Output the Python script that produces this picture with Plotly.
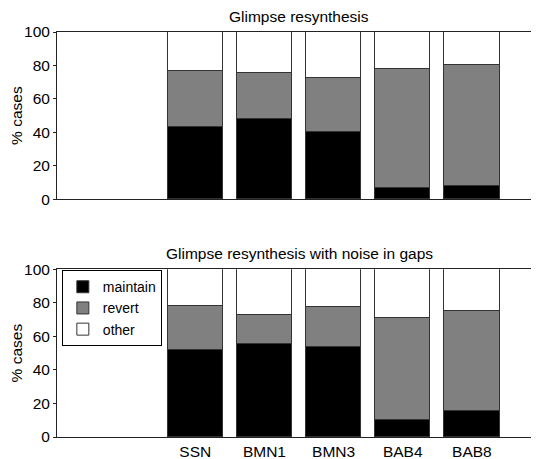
import plotly.graph_objects as go

categories = ["SSN", "BMN1", "BMN3", "BAB4", "BAB8"]
positions = [3, 4, 5, 6, 7]

top_maintain = [43.0, 47.7, 40.1, 6.9, 7.8]
top_revert = [33.6, 27.7, 32.7, 70.9, 72.2]
top_other = [100 - m - r for m, r in zip(top_maintain, top_revert)]

bot_maintain = [51.4, 55.2, 53.6, 9.8, 15.4]
bot_revert = [26.7, 17.4, 23.9, 61.1, 59.3]
bot_other = [100 - m - r for m, r in zip(bot_maintain, bot_revert)]

titles = ["Glimpse resynthesis", "Glimpse resynthesis with noise in gaps"]
series_names = ["maintain", "revert", "other"]
colors = ["#000000", "#808080", "#ffffff"]

FONT = "Liberation Sans, Arial, Helvetica, sans-serif"
FS = 15.5

fig = go.Figure()

panels = [
    ("x", "y", [top_maintain, top_revert, top_other], False),
    ("x2", "y2", [bot_maintain, bot_revert, bot_other], True),
]
for xa, ya, vals, show in panels:
    for name, col, v in zip(series_names, colors, vals):
        fig.add_trace(go.Bar(
            x=positions, y=v, name=name, xaxis=xa, yaxis=ya,
            marker=dict(color=col, line=dict(color="#333333", width=1)),
            width=0.8, showlegend=show, legendgroup=name,
        ))

xrange_ = [1, 8]
common_x = dict(range=xrange_, showline=True, linecolor="#222", linewidth=1,
                mirror=True, ticks="", showgrid=False, zeroline=False,
                tickvals=positions, ticktext=categories, automargin=False,
                tickfont=dict(family=FONT, size=FS, color="#000"))
common_y = dict(range=[0, 100], showline=True, linecolor="#222", linewidth=1,
                mirror=True, ticks="outside", ticklen=3, tickcolor="#222",
                tickvals=[0, 20, 40, 60, 80, 100], showgrid=False, zeroline=False,
                automargin=False,
                tickfont=dict(family=FONT, size=FS, color="#000"),
                title=dict(text="% cases", font=dict(family=FONT, size=FS, color="#000"),
                           standoff=2))
right_y = dict(range=[0, 100], side="right", ticks="inside", ticklen=5,
               tickcolor="#222", tickvals=[20, 40, 60, 80], showticklabels=False,
               showline=False, showgrid=False, zeroline=False, automargin=False)

top_dom = [0.587, 1.0]
bot_dom = [0.0, 0.414]

fig.update_layout(
    width=539, height=459,
    margin=dict(l=49, r=6, t=24, b=30, autoexpand=False),
    paper_bgcolor="white", plot_bgcolor="white",
    barmode="stack", bargap=0,
    font=dict(family=FONT, size=FS, color="#000"),
    xaxis=dict(common_x, domain=[0, 1], anchor="y", showticklabels=False),
    yaxis=dict(common_y, domain=top_dom, anchor="x"),
    xaxis2=dict(common_x, domain=[0, 1], anchor="y2"),
    yaxis2=dict(common_y, domain=bot_dom, anchor="x2"),
    yaxis3=dict(right_y, overlaying="y", anchor="x"),
    yaxis4=dict(right_y, overlaying="y2", anchor="x2"),
    legend=dict(x=0.01, y=0.412, xanchor="left", yanchor="top",
                bordercolor="#000", borderwidth=1, bgcolor="white",
                traceorder="normal", font=dict(family=FONT, size=14),
                tracegroupgap=0, itemwidth=30),
    annotations=[
        dict(text=titles[0], x=0.5, y=1.0, xref="paper", yref="paper",
             xanchor="center", yanchor="bottom", yshift=5, showarrow=False,
             font=dict(family=FONT, size=FS, color="#000")),
        dict(text=titles[1], x=0.5, y=bot_dom[1], xref="paper", yref="paper",
             xanchor="center", yanchor="bottom", yshift=5, showarrow=False,
             font=dict(family=FONT, size=FS, color="#000")),
    ],
)

fig.write_html("out.html")
